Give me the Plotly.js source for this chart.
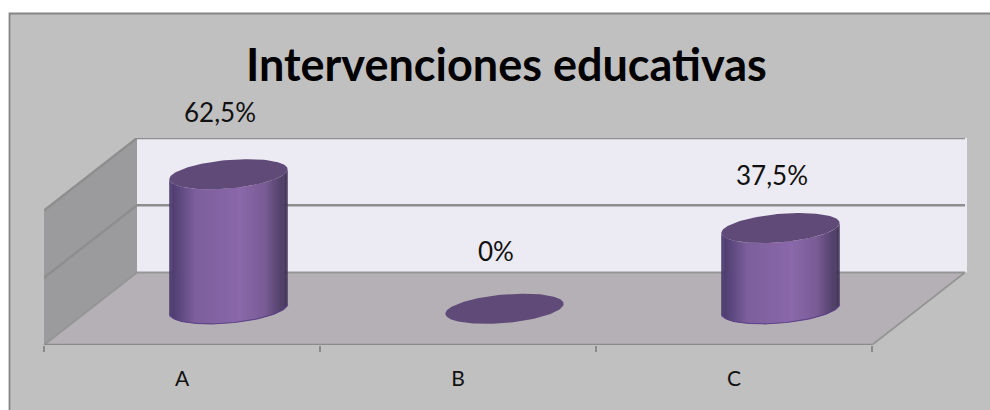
<!DOCTYPE html>
<html><head><meta charset="utf-8">
<script src="https://cdn.plot.ly/plotly-3.0.1.min.js"></script>
<style>html,body{margin:0;padding:0;background:#fff}#c{width:990px;height:410px}</style>
</head><body><div id="c"></div>
<script>
const categories = ['A', 'B', 'C'];
const values = [62.5, 0, 37.5];
const gridValues = [0, 31.25, 62.5];
const chartTitle = 'Intervenciones educativas';
const labelShiftX = [-9, -9, -9];
const labelShiftY = [62, 58, 53];

// oblique projection: one unit of depth moves right and up on the axes
const W = 990, H = 410, L = 44, R = 967, T = 138, B = 345;
const catPx = 276, valPx = 134.5 / 62.5;
const depthX = 93 / catPx, depthY = 72.5 / valPx;
const xMax = (R - L) / catPx, yMax = (B - T) / valPx;
const rx = 55.9 / catPx, depthR = 0.208;
const proj = (u, v, d) => [u + d * depthX, v + d * depthY];

const traces = [];
function poly(pts, fill, name) {
  traces.push({type:'scatter', mode:'lines', x:pts.map(p=>p[0]), y:pts.map(p=>p[1]),
    fill:'toself', fillcolor:fill, line:{width:0, color:fill}, hoverinfo:'skip', showlegend:false, name:name||'', cliponaxis:false});
}
function line(pts, color, width) {
  traces.push({type:'scatter', mode:'lines', x:pts.map(p=>p[0]), y:pts.map(p=>p[1]),
    line:{color:color, width:width}, hoverinfo:'skip', showlegend:false, cliponaxis:false});
}
// walls and floor
poly([proj(0,0,1), proj(xMax-depthX,0,1), proj(xMax-depthX,62.5,1), proj(0,62.5,1)], '#ECEAF2');
poly([proj(0,0,0), proj(3,0,0), proj(3,0,1), proj(0,0,1)], '#B5B0B5');
poly([proj(0,0,0), proj(0,62.5,0), proj(0,62.5,1), proj(0,0,1)], '#9B9A9C');
gridValues.forEach((g,i) => {
  if (i>0) line([proj(0,g,0), proj(0,g,1), proj(3,g,1)], '#8E8E8E', 2.4);
});
line([proj(0,0,0), proj(0,0,1), proj(3,0,1), proj(3,0,0)], '#959595', 1.8);
line([proj(0,0,0), proj(3,0,0)], '#8A8A8A', 2.4);

const stops = [[0,[72,56,104]],[0.04,[82,64,116]],[0.22,[125,95,156]],[0.6,[138,104,170]],[0.8,[122,92,150]],[0.94,[84,66,108]],[1,[66,52,86]]];
function shade(f){
  for (let i=1;i<stops.length;i++) if (f<=stops[i][0]) {
    const a=stops[i-1], b=stops[i], k=(f-a[0])/(b[0]-a[0]);
    const c=a[1].map((q,j)=>Math.round(q+(b[1][j]-q)*k));
    return `rgb(${c[0]},${c[1]},${c[2]})`;
  }
  return 'rgb(66,52,86)';
}
function ring(cu, v, t){
  return proj(cu + rx*Math.cos(t), v, 0.5 + depthR*Math.sin(t));
}
const t0 = Math.atan2(depthR*depthX, rx);
const N = 72;
categories.forEach((cat,i) => {
  const cu = i + 0.5, v = values[i];
  if (v > 0) {
    const xl = ring(cu,0,t0+Math.PI)[0], xr = ring(cu,0,t0)[0];
    for (let k=0;k<N;k++){
      const a=t0+Math.PI+Math.PI*k/N, b=t0+Math.PI+Math.PI*(k+1.6)/N;
      const bEnd = Math.min(b, t0+2*Math.PI);
      const mid=(ring(cu,0,a)[0]+ring(cu,0,t0+Math.PI+Math.PI*(k+1)/N)[0])/2;
      poly([ring(cu,0,a),ring(cu,0,bEnd),ring(cu,v,bEnd),ring(cu,v,a)], shade((mid-xl)/(xr-xl)));
    }
    const edge=[]; for(let k=0;k<=N;k++) edge.push(ring(cu,0,t0+Math.PI+Math.PI*k/N));
    line(edge,'#5E4488',1.2);
  }
  const top=[]; for(let k=0;k<=2*N;k++) top.push(ring(cu,v,Math.PI*k/N));
  poly(top,'#604A78');
});
// category labels and tick marks come from the axis
const annotations = categories.map((c,i)=>{
  const p = proj(i+0.5, values[i], 0.5);
  return {x:p[0], y:p[1], xref:'x', yref:'y', text:String(values[i]).replace('.',',')+'%', showarrow:false,
    xshift:labelShiftX[i], yshift:labelShiftY[i], font:{family:'Lato',size:26,color:'#111'}};
});
const layout = {
  width:W, height:H, margin:{l:L, r:W-R, t:T, b:H-B}, autosize:false, showlegend:false,
  paper_bgcolor:'#FFFFFF', plot_bgcolor:'rgba(0,0,0,0)',
  title:{text:'<b>'+chartTitle+'</b>', font:{family:'Lato',size:45,color:'#000'}, x:0.5115, xanchor:'center', y:0.84, yanchor:'middle'},
  xaxis:{range:[0,xMax], showgrid:false, zeroline:false, showline:false, fixedrange:true,
    tickmode:'array', tickvals:categories.map((c,i)=>i+0.5), ticktext:categories, ticks:'outside', ticklen:15, tickcolor:'rgba(0,0,0,0)',
    tickfont:{family:'Lato',size:21,color:'#111'},
    minor:{tickmode:'array', tickvals:[0,1,2,3], ticks:'outside', ticklen:6, tickcolor:'#8A8A8A', tickwidth:1.5, showgrid:false}},
  yaxis:{range:[0,yMax], showgrid:false, zeroline:false, showline:false, showticklabels:false, ticks:'', fixedrange:true},
  shapes:[
    {type:'rect', layer:'below', xref:'paper', yref:'paper',
     x0:(9.5-L)/(R-L), x1:(W+5-L)/(R-L), y0:(B-(H+5))/(B-T), y1:(B-13.5)/(B-T),
     fillcolor:'#C0C0C0', line:{color:'#868686', width:1.8}}
  ],
  annotations:annotations
};
Plotly.newPlot('c', traces, layout, {displayModeBar:false, staticPlot:true});
</script></body></html>
